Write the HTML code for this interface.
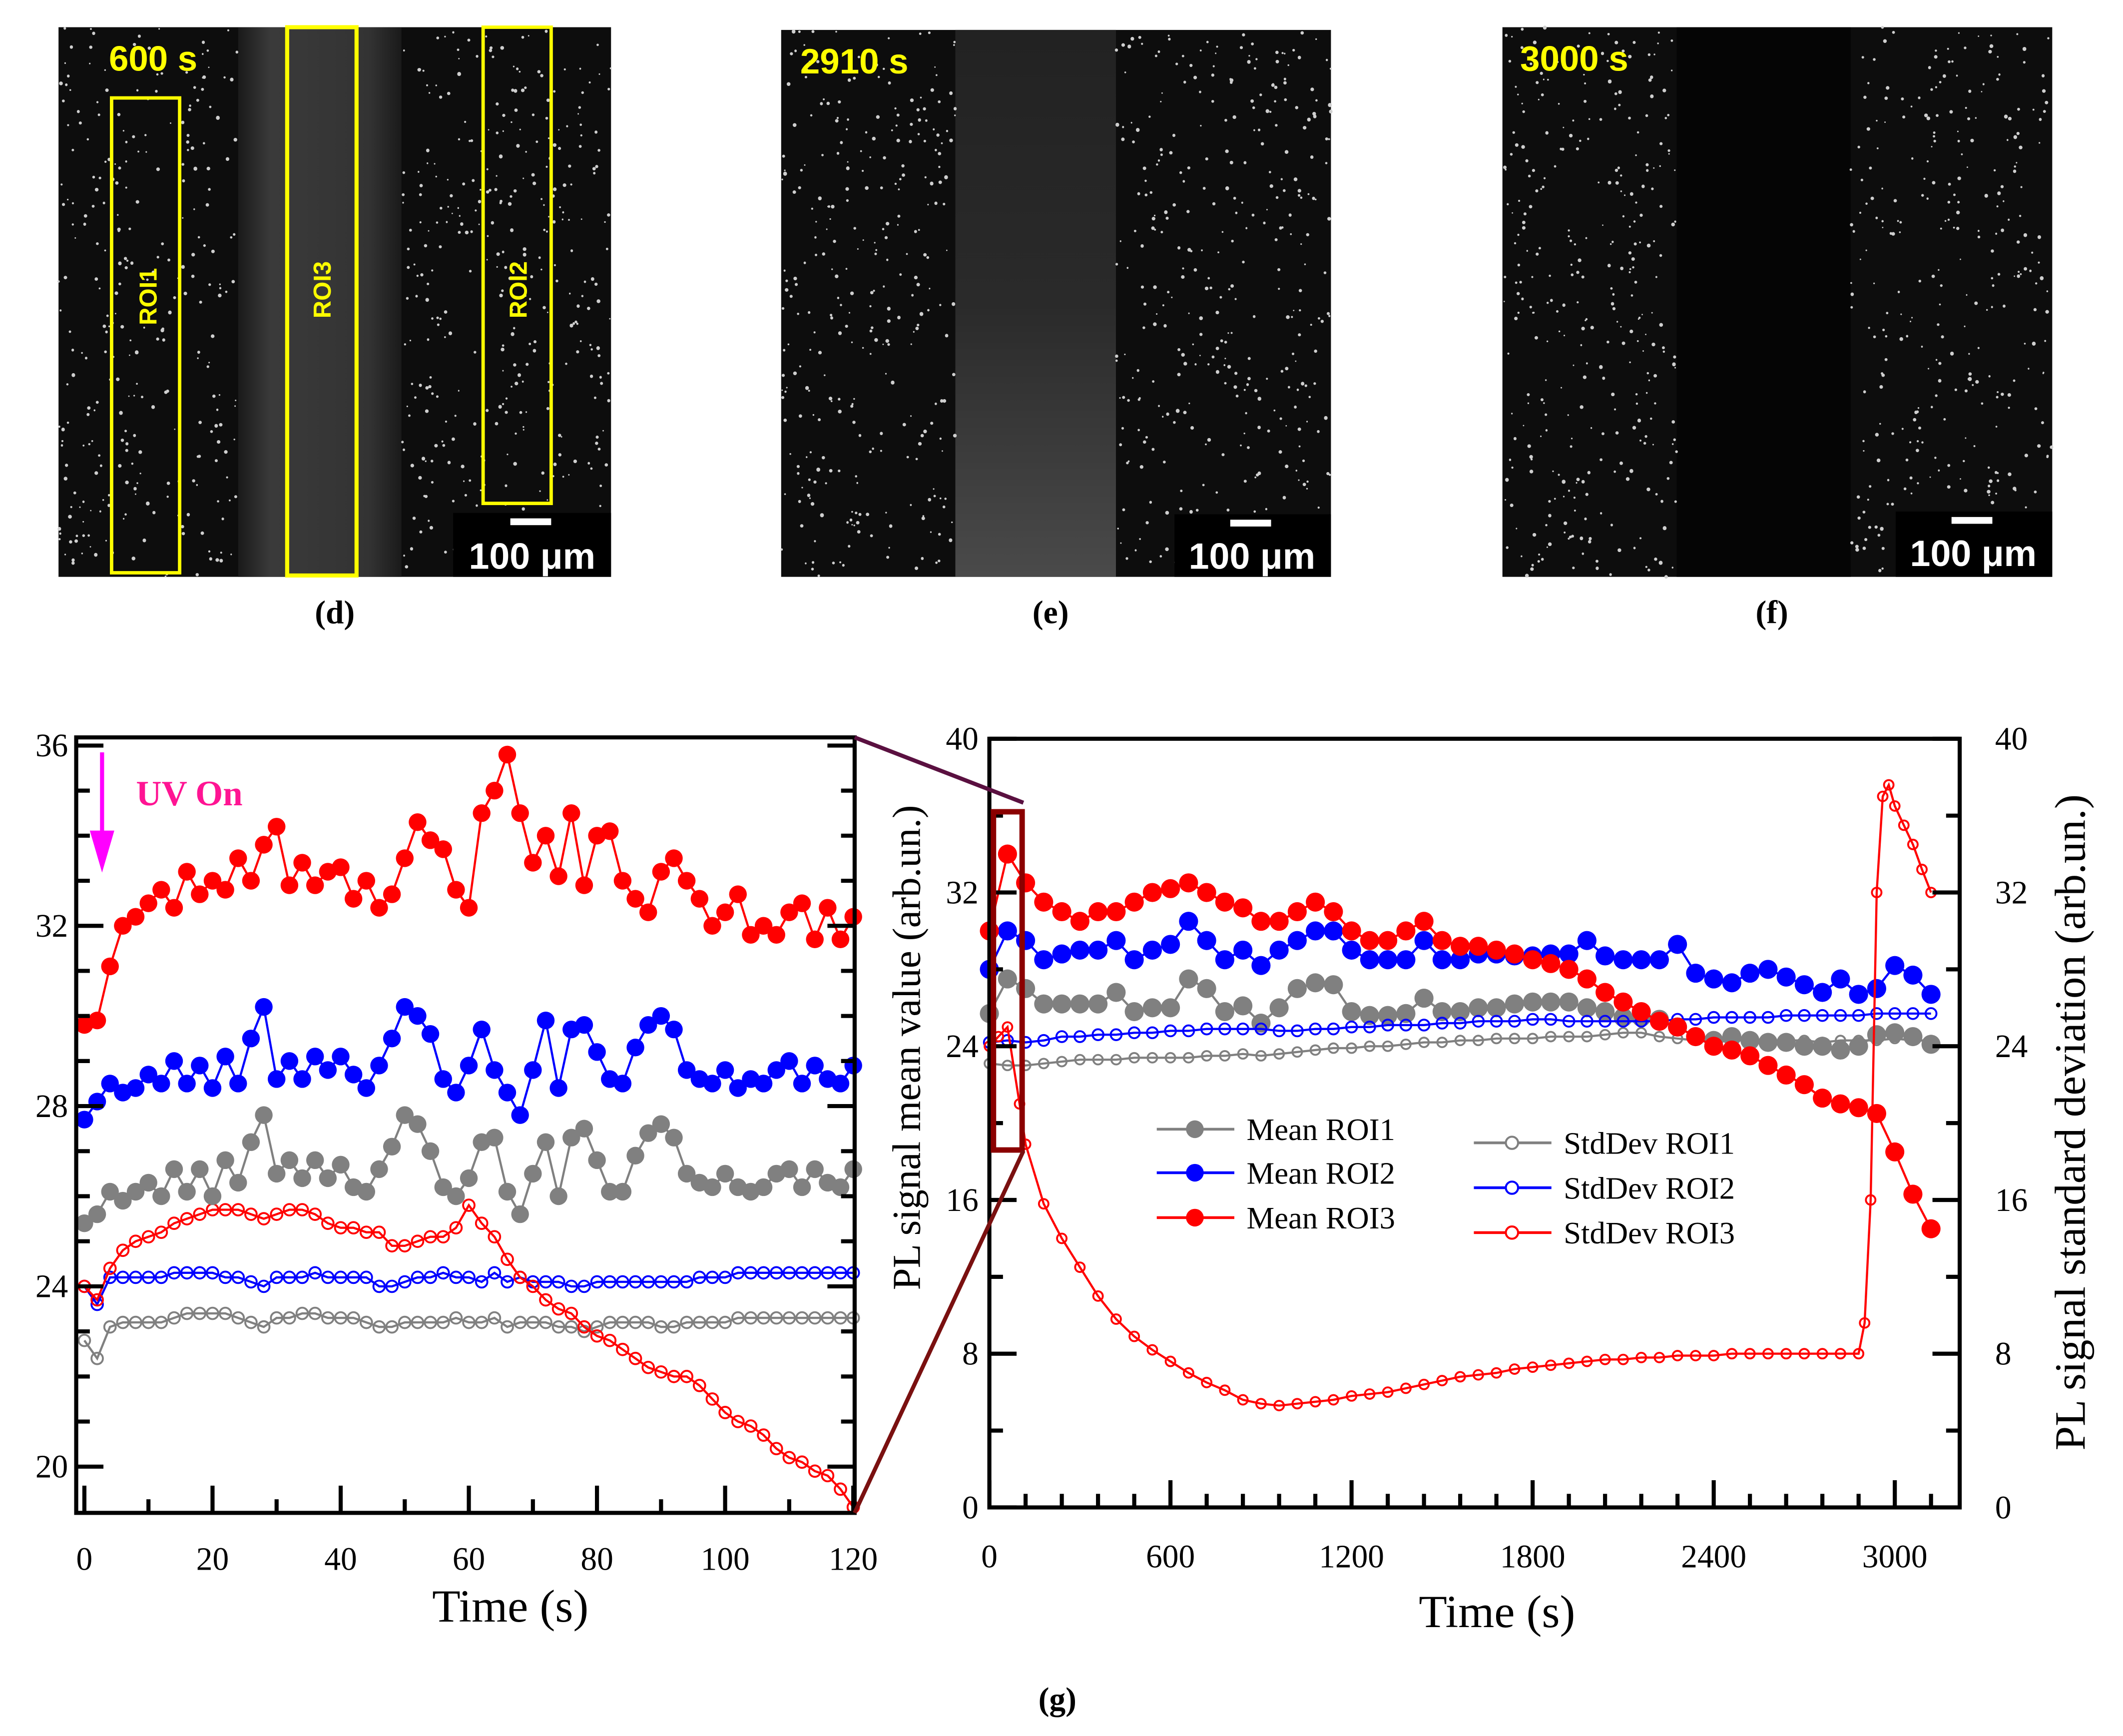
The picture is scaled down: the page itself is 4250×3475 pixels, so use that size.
<!DOCTYPE html>
<html><head><meta charset="utf-8"><style>
html,body{margin:0;padding:0;background:#fff;}
svg{display:block;}
text{font-family:"Liberation Serif",serif;}
text.sans{font-family:"Liberation Sans Narrow","Liberation Sans",sans-serif;}
</style></head><body>
<svg id="fig" width="4250" height="3475" viewBox="0 0 1560 1276" preserveAspectRatio="none" xmlns="http://www.w3.org/2000/svg">
<defs>
<linearGradient id="chD" x1="0" x2="1"><stop offset="0" stop-color="#1a1a1a"/><stop offset="0.2" stop-color="#3a3a3a"/><stop offset="0.8" stop-color="#333"/><stop offset="1" stop-color="#1a1a1a"/></linearGradient>
<linearGradient id="chE" x1="0" y1="0" x2="0" y2="1"><stop offset="0" stop-color="#222"/><stop offset="0.5" stop-color="#2a2a2a"/><stop offset="1" stop-color="#4a4a4a"/></linearGradient>
</defs>
<g id="images">
  <rect x="43" y="20" width="406" height="404" fill="#0d0d0d"/>
  <rect x="175" y="20" width="120" height="404" fill="url(#chD)"/>
  <rect x="574" y="22" width="404" height="402" fill="#0d0d0d"/>
  <rect x="702" y="22" width="118" height="402" fill="url(#chE)"/>
  <rect x="1104" y="20" width="404" height="404" fill="#0d0d0d"/>
  <rect x="1232" y="20" width="128" height="404" fill="#050505"/>
  <g id="dots"></g>
  <rect x="82" y="72" width="50" height="349" fill="none" stroke="#ffff00" stroke-width="2.5"/>
  <rect x="211" y="20" width="51" height="403" fill="none" stroke="#ffff00" stroke-width="3"/>
  <rect x="355" y="20" width="50" height="350" fill="none" stroke="#ffff00" stroke-width="2.5"/>
  <text class="sans" transform="translate(115,218) rotate(-90)" text-anchor="middle" fill="#ffff00" font-weight="bold" font-size="18">ROI1</text>
  <text class="sans" transform="translate(243,213) rotate(-90)" text-anchor="middle" fill="#ffff00" font-weight="bold" font-size="18">ROI3</text>
  <text class="sans" transform="translate(387,213) rotate(-90)" text-anchor="middle" fill="#ffff00" font-weight="bold" font-size="18">ROI2</text>
  <text class="sans" x="80" y="52" fill="#ffff00" font-weight="bold" font-size="26">600 s</text>
  <text class="sans" x="588" y="54" fill="#ffff00" font-weight="bold" font-size="26">2910 s</text>
  <text class="sans" x="1117" y="52" fill="#ffff00" font-weight="bold" font-size="26">3000 s</text>
  <g><rect x="333" y="377" width="116" height="47" fill="#000"/><rect x="375" y="381" width="30" height="5" fill="#fff"/><text class="sans" x="391" y="418" text-anchor="middle" fill="#fff" font-weight="bold" font-size="27">100 μm</text></g>
  <g><rect x="863" y="378" width="115" height="46" fill="#000"/><rect x="904" y="382" width="30" height="5" fill="#fff"/><text class="sans" x="920" y="418" text-anchor="middle" fill="#fff" font-weight="bold" font-size="27">100 μm</text></g>
  <g><rect x="1393" y="376" width="115" height="48" fill="#000"/><rect x="1434" y="380" width="30" height="5" fill="#fff"/><text class="sans" x="1450" y="416" text-anchor="middle" fill="#fff" font-weight="bold" font-size="27">100 μm</text></g>
  <text x="246" y="458" text-anchor="middle" font-size="24" font-weight="bold">(d)</text>
  <text x="772" y="458" text-anchor="middle" font-size="24" font-weight="bold">(e)</text>
  <text x="1302" y="458" text-anchor="middle" font-size="24" font-weight="bold">(f)</text>
</g>
<g id="left"></g>
<g id="right"></g>
<text x="777" y="1257" text-anchor="middle" font-size="24" font-weight="bold">(g)</text>
</svg>
<script>
// ---------- Left chart data (zoom 0-120 s) ----------
const tL = [];
for (let i = 0; i <= 60; i++) tL.push(i * 2);
const meanROI3_L = [29.8,29.9,31.1,32.0,32.2,32.5,32.8,32.4,33.2,32.7,33.0,32.8,33.5,33.0,33.8,34.2,32.9,33.4,32.9,33.2,33.3,32.6,33.0,32.4,32.7,33.5,34.3,33.9,33.7,32.8,32.4,34.5,35.0,35.8,34.5,33.4,34.0,33.1,34.5,32.9,34.0,34.1,33.0,32.6,32.3,33.2,33.5,33.0,32.6,32.0,32.3,32.7,31.8,32.0,31.8,32.3,32.5,31.7,32.4,31.7,32.2];
const meanROI2_L = [27.7,28.1,28.5,28.3,28.4,28.7,28.5,29.0,28.5,28.9,28.4,29.1,28.5,29.5,30.2,28.6,29.0,28.6,29.1,28.8,29.1,28.7,28.4,28.9,29.5,30.2,30.0,29.6,28.6,28.3,28.9,29.7,28.8,28.3,27.8,28.8,29.9,28.4,29.7,29.8,29.2,28.6,28.5,29.3,29.8,30.0,29.7,28.8,28.6,28.5,28.8,28.4,28.6,28.5,28.8,29.0,28.5,28.9,28.6,28.5,28.9];
const meanROI1_L = [25.4,25.6,26.1,25.9,26.1,26.3,26.0,26.6,26.1,26.6,26.0,26.8,26.3,27.2,27.8,26.5,26.8,26.4,26.8,26.4,26.7,26.2,26.1,26.6,27.1,27.8,27.6,27.0,26.2,26.0,26.4,27.2,27.3,26.1,25.6,26.5,27.2,26.0,27.3,27.5,26.8,26.1,26.1,26.9,27.4,27.6,27.3,26.5,26.3,26.2,26.5,26.2,26.1,26.2,26.5,26.6,26.2,26.6,26.3,26.2,26.6];
const stdROI3_L = [24.0,23.7,24.4,24.8,25.0,25.1,25.2,25.4,25.5,25.6,25.7,25.7,25.7,25.6,25.5,25.6,25.7,25.7,25.6,25.4,25.3,25.3,25.2,25.2,24.9,24.9,25.0,25.1,25.1,25.3,25.8,25.4,25.1,24.6,24.2,24.0,23.7,23.5,23.4,23.1,22.9,22.8,22.6,22.4,22.2,22.1,22.0,22.0,21.8,21.5,21.2,21.0,20.9,20.7,20.4,20.2,20.1,19.9,19.8,19.5,19.1];
const stdROI2_L = [24.0,23.6,24.2,24.2,24.2,24.2,24.2,24.3,24.3,24.3,24.3,24.2,24.2,24.1,24.0,24.2,24.2,24.2,24.3,24.2,24.2,24.2,24.2,24.0,24.0,24.1,24.2,24.2,24.3,24.2,24.2,24.1,24.3,24.1,24.2,24.1,24.1,24.1,24.0,24.0,24.1,24.1,24.1,24.1,24.1,24.1,24.1,24.1,24.2,24.2,24.2,24.3,24.3,24.3,24.3,24.3,24.3,24.3,24.3,24.3,24.3];
const stdROI1_L = [22.8,22.4,23.1,23.2,23.2,23.2,23.2,23.3,23.4,23.4,23.4,23.4,23.3,23.2,23.1,23.3,23.3,23.4,23.4,23.3,23.3,23.3,23.2,23.1,23.1,23.2,23.2,23.2,23.2,23.3,23.2,23.2,23.3,23.1,23.2,23.2,23.2,23.1,23.1,23.0,23.1,23.2,23.2,23.2,23.2,23.1,23.1,23.2,23.2,23.2,23.2,23.3,23.3,23.3,23.3,23.3,23.3,23.3,23.3,23.3,23.3];
const yTicksL = [20,24,28,32,36];
const xTicksL = [0,20,40,60,80,100,120];

// ---------- Right chart data (0-3130 s) ----------
const tR = [0,60,120,180,240,300,360,420,480,540,600,660,720,780,840,900,960,1020,1080,1140,1200,1260,1320,1380,1440,1500,1560,1620,1680,1740,1800,1860,1920,1980,2040,2100,2160,2220,2280,2340,2400,2460,2520,2580,2640,2700,2760,2820,2880,2940,3000,3060,3120];
const meanROI3_R = [30,34,32.5,31.5,31,30.5,31,31,31.5,32,32.2,32.5,32,31.5,31.2,30.5,30.5,31,31.5,31,30,29.5,29.5,30,30.5,29.5,29.2,29.2,29,28.8,28.5,28.3,28,27.5,26.8,26.3,25.8,25.3,25,24.5,24,23.8,23.5,23,22.5,22,21.3,21,20.8,20.5,18.5,16.3,14.5];
const meanROI2_R = [28,30,29.5,28.5,28.8,29,29,29.5,28.5,29,29.3,30.5,29.5,28.5,29,28.2,29,29.5,30,30,29,28.5,28.5,28.5,29.5,28.5,28.5,28.8,28.8,28.7,28.7,28.8,28.8,29.5,28.7,28.5,28.5,28.5,29.3,27.8,27.5,27.3,27.8,28,27.6,27.2,26.8,27.5,26.7,27,28.2,27.7,26.7];
const meanROI1_R = [25.7,27.5,27,26.2,26.2,26.2,26.2,26.8,25.8,26,26,27.5,27,25.8,26.1,25.2,26,27,27.3,27.2,25.8,25.6,25.6,25.7,26.5,25.8,25.8,26,26,26.2,26.3,26.3,26.3,26,25.8,25.5,25.5,25.4,25,24.5,24.3,24.5,24.3,24.2,24.2,24,24,23.8,24,24.6,24.7,24.5,24.1];
const stdROI2_R = [24.2,24.3,24.2,24.3,24.5,24.5,24.6,24.6,24.7,24.7,24.8,24.8,24.9,24.9,24.9,24.9,24.8,24.8,24.9,24.9,25.0,25.0,25.1,25.1,25.1,25.2,25.2,25.3,25.3,25.3,25.4,25.4,25.3,25.3,25.3,25.3,25.3,25.3,25.4,25.4,25.5,25.5,25.5,25.5,25.6,25.6,25.6,25.6,25.6,25.7,25.7,25.7,25.7];
const stdROI1_R = [23.1,23.0,23.0,23.1,23.2,23.3,23.3,23.3,23.4,23.4,23.4,23.4,23.5,23.5,23.6,23.5,23.6,23.7,23.8,23.9,23.9,24.0,24.0,24.1,24.2,24.2,24.3,24.3,24.4,24.4,24.4,24.5,24.5,24.5,24.6,24.7,24.7,24.5,24.4,24.3,24.2,24.3,24.3,24.3,24.3,24.3,24.2,24.3,24.3,24.3,24.4,24.3,24.3];
const tStd3_R = [0,30,60,100,120,180,240,300,360,420,480,540,600,660,720,780,840,900,960,1020,1080,1140,1200,1260,1320,1380,1440,1500,1560,1620,1680,1740,1800,1860,1920,1980,2040,2100,2160,2220,2280,2340,2400,2460,2520,2580,2640,2700,2760,2820,2880,2900,2920,2940,2960,2980,3000,3030,3060,3090,3120];
const stdROI3_R = [24,24.5,25,21,18.9,15.8,14,12.5,11,9.8,8.9,8.2,7.6,7.0,6.5,6.1,5.6,5.4,5.3,5.4,5.5,5.6,5.8,5.9,6.0,6.2,6.4,6.6,6.8,6.9,7.0,7.2,7.3,7.4,7.5,7.6,7.7,7.7,7.8,7.8,7.9,7.9,7.9,8.0,8.0,8.0,8.0,8.0,8.0,8.0,8.0,9.6,16,32,37,37.6,36.5,35.5,34.5,33.2,32];
const yTicksR = [0,8,16,24,32,40];
const xTicksR = [0,600,1200,1800,2400,3000];

const NS = 'http://www.w3.org/2000/svg';
function mk(parent, tag, attrs) {
  const e = document.createElementNS(NS, tag);
  for (const k in attrs) e.setAttribute(k, attrs[k]);
  parent.appendChild(e);
  return e;
}

// decorative speckle for micrographs
(function(){
  const g = document.getElementById('dots');
  let s = 12345;
  function rnd(){ s = (s * 1103515245 + 12345) % 2147483648; return s / 2147483648; }
  const panels = [[43,20,406,404,175,295],[574,22,404,402,702,820],[1104,20,404,404,1232,1360]];
  let path = '';
  panels.forEach(p => {
    for (let i = 0; i < 900; i++) {
      const x = p[0] + rnd() * p[2], y = p[1] + rnd() * p[3];
      if (x > p[4] && x < p[5]) continue;
      const r = 0.5 + rnd() * 0.9;
      path += 'M' + (x - r).toFixed(1) + ' ' + y.toFixed(1) + 'a' + r.toFixed(2) + ' ' + r.toFixed(2) + ' 0 1 0 ' + (2 * r).toFixed(2) + ' 0a' + r.toFixed(2) + ' ' + r.toFixed(2) + ' 0 1 0 ' + (-2 * r).toFixed(2) + ' 0';
    }
  });
  const d = mk(g, 'path', {d: path, fill: '#cfcfcf'});
  
  
})();

function series(g, xs, ys, xf, yf, color, filled, r, name) {
  const sg = mk(g, 'g', {});
  
  
  let d = '';
  for (let i = 0; i < ys.length; i++) d += (i ? 'L' : 'M') + xf(xs[i]).toFixed(2) + ' ' + yf(ys[i]).toFixed(2);
  const pl = mk(sg, 'path', {d: d, fill: 'none', stroke: color, 'stroke-width': 1.6});
  
  
  for (let i = 0; i < ys.length; i++) {
    const c = mk(sg, 'circle', {cx: xf(xs[i]), cy: yf(ys[i]), r: r, fill: filled ? color : 'none', stroke: color, 'stroke-width': filled ? 0 : 1.4});
    
    
  }
}

// ---------- Left chart ----------
(function(){
  const g = document.getElementById('left');
  const xL = t => 62 + t * (627 - 62) / 120;
  const yL = v => 548 + (36 - v) * 132.5 / 4;
  const L = 56, R = 628, T = 542, B = 1112;
  series(g, tL, stdROI1_L, xL, yL, '#808080', false, 4.2, 'stdev-roi1-zoom');
  series(g, tL, stdROI2_L, xL, yL, '#0000ff', false, 4.2, 'stdev-roi2-zoom');
  series(g, tL, stdROI3_L, xL, yL, '#ff0000', false, 4.2, 'stdev-roi3-zoom');
  series(g, tL, meanROI1_L, xL, yL, '#808080', true, 6.5, 'mean-roi1-zoom');
  series(g, tL, meanROI2_L, xL, yL, '#0000ff', true, 6.5, 'mean-roi2-zoom');
  series(g, tL, meanROI3_L, xL, yL, '#ff0000', true, 6.5, 'mean-roi3-zoom');
  const fr = mk(g, 'rect', {x: L, y: T, width: R - L, height: B - T, fill: 'none', stroke: '#000', 'stroke-width': 3});
  
  
  const ax = mk(g, 'g', {stroke: '#000', 'stroke-width': 3});
  
  
  for (let v = 20; v <= 36; v++) {
    const len = v % 4 === 0 ? 20 : 10;
    mk(ax, 'line', {x1: L, x2: L + len, y1: yL(v), y2: yL(v)});
    mk(ax, 'line', {x1: R, x2: R - len, y1: yL(v), y2: yL(v)});
  }
  for (let t = 0; t <= 120; t += 10) {
    const len = t % 20 === 0 ? 20 : 10;
    mk(ax, 'line', {x1: xL(t), x2: xL(t), y1: B, y2: B - len});
  }
  yTicksL.forEach(v => {
    const tx = mk(g, 'text', {x: 50, y: yL(v) + 8, 'text-anchor': 'end', 'font-size': 24});
    tx.textContent = v;
    
    
  });
  xTicksL.forEach(t => {
    const tx = mk(g, 'text', {x: xL(t), y: 1154, 'text-anchor': 'middle', 'font-size': 24});
    tx.textContent = t;
    
    
  });
  const xt = mk(g, 'text', {x: 375, y: 1192, 'text-anchor': 'middle', 'font-size': 34});
  xt.textContent = 'Time (s)';
  
  
  const ar = mk(g, 'path', {d: 'M75 553 L75 620 M68 612 L75 636 L82 612 Z', stroke: '#ff00ff', 'stroke-width': 3, fill: '#ff00ff'});
  
  
  const uv = mk(g, 'text', {x: 100, y: 592, 'font-size': 26, 'font-weight': 'bold', fill: '#ff1493'});
  uv.textContent = 'UV On';
  
  
})();

// ---------- Right chart ----------
(function(){
  const g = document.getElementById('right');
  const L = 727, R = 1440, T = 543, B = 1108;
  const xR = t => L + t * (R - L) / 3215;
  const yR = v => B - v * (B - T) / 40;
  series(g, tR, meanROI1_R, xR, yR, '#808080', true, 7, 'mean-roi1');
  series(g, tR, stdROI1_R, xR, yR, '#808080', false, 3.5, 'stdev-roi1');
  series(g, tR, meanROI2_R, xR, yR, '#0000ff', true, 7, 'mean-roi2');
  series(g, tR, stdROI2_R, xR, yR, '#0000ff', false, 4, 'stdev-roi2');
  series(g, tR, meanROI3_R, xR, yR, '#ff0000', true, 7, 'mean-roi3');
  series(g, tStd3_R, stdROI3_R, xR, yR, '#ff0000', false, 3.5, 'stdev-roi3');
  const fr = mk(g, 'rect', {x: L, y: T, width: R - L, height: B - T, fill: 'none', stroke: '#000', 'stroke-width': 3});
  
  
  const ax = mk(g, 'g', {stroke: '#000', 'stroke-width': 3});
  
  
  for (let v = 0; v <= 40; v += 4) {
    const len = v % 8 === 0 ? 20 : 10;
    mk(ax, 'line', {x1: L, x2: L + len, y1: yR(v), y2: yR(v)});
    mk(ax, 'line', {x1: R, x2: R - len, y1: yR(v), y2: yR(v)});
  }
  for (let t = 0; t <= 3120; t += 120) {
    const len = t % 600 === 0 ? 20 : 10;
    mk(ax, 'line', {x1: xR(t), x2: xR(t), y1: B, y2: B - len});
  }
  yTicksR.forEach(v => {
    const a = mk(g, 'text', {x: 719, y: yR(v) + 8, 'text-anchor': 'end', 'font-size': 24});
    a.textContent = v;
    
    
    const b = mk(g, 'text', {x: 1466, y: yR(v) + 8, 'text-anchor': 'start', 'font-size': 24});
    b.textContent = v;
    
    
  });
  xTicksR.forEach(t => {
    const tx = mk(g, 'text', {x: xR(t), y: 1152, 'text-anchor': 'middle', 'font-size': 24});
    tx.textContent = t;
    
    
  });
  const xt = mk(g, 'text', {x: 1100, y: 1196, 'text-anchor': 'middle', 'font-size': 34});
  xt.textContent = 'Time (s)';
  
  
  const yl = mk(g, 'text', {transform: 'translate(676,770) rotate(-90)', 'text-anchor': 'middle', 'font-size': 29});
  yl.textContent = 'PL signal mean value (arb.un.)';
  
  
  const yr = mk(g, 'text', {transform: 'translate(1532,825) rotate(-90)', 'text-anchor': 'middle', 'font-size': 32});
  yr.textContent = 'PL signal standard deviation (arb.un.)';
  
  
  const zb = mk(g, 'rect', {x: xR(0) + 3, y: yR(36.2), width: xR(95) - xR(0), height: yR(18.6) - yR(36.2), fill: 'none', stroke: '#8b0000', 'stroke-width': 4});
  
  
  const z1 = mk(g, 'line', {x1: 628, y1: 542, x2: 752, y2: 590, stroke: '#5a1040', 'stroke-width': 3});
  
  
  const z2 = mk(g, 'line', {x1: 628, y1: 1112, x2: 752, y2: 846, stroke: '#7a1010', 'stroke-width': 3});
  
  
  const lg = mk(g, 'g', {});
  
  
  const items = [
    ['Mean ROI1', '#808080', true, 850, 830], ['Mean ROI2', '#0000ff', true, 850, 862], ['Mean ROI3', '#ff0000', true, 850, 895],
    ['StdDev ROI1', '#808080', false, 1083, 840], ['StdDev ROI2', '#0000ff', false, 1083, 873], ['StdDev ROI3', '#ff0000', false, 1083, 906]
  ];
  items.forEach(it => {
    const e = mk(lg, 'g', {});
    
    
    mk(e, 'line', {x1: it[3], x2: it[3] + 57, y1: it[4], y2: it[4], stroke: it[1], 'stroke-width': 2});
    mk(e, 'circle', {cx: it[3] + 28, cy: it[4], r: it[2] ? 6.5 : 4.5, fill: it[2] ? it[1] : '#fff', stroke: it[1], 'stroke-width': it[2] ? 0 : 1.5});
    const tx = mk(e, 'text', {x: it[3] + 66, y: it[4] + 8, 'font-size': 23});
    tx.textContent = it[0];
  });
})();
</script>
</body></html>
